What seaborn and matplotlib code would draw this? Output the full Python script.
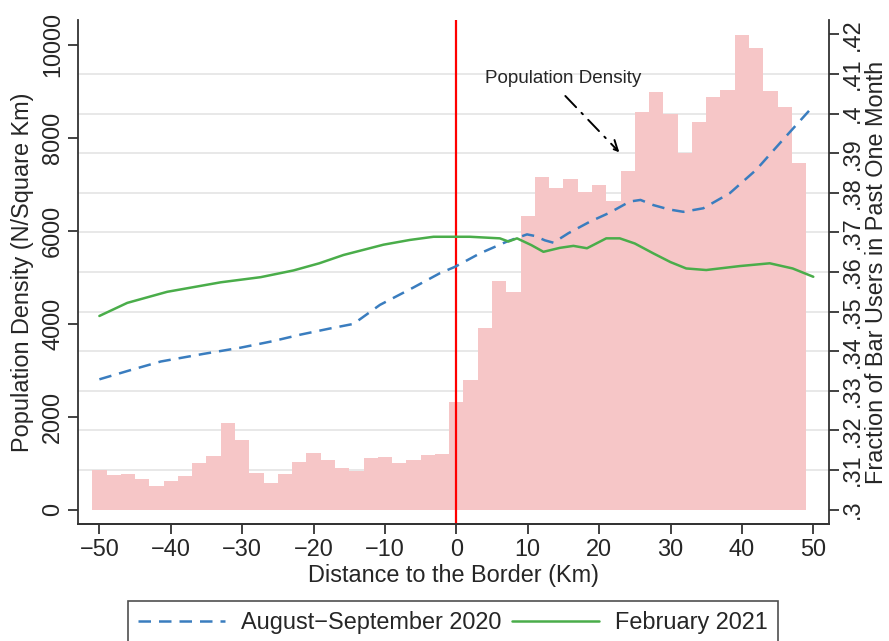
import numpy as np
import pandas as pd
import matplotlib
matplotlib.use("Agg")
import matplotlib.pyplot as plt
from matplotlib.ticker import FuncFormatter
from matplotlib.lines import Line2D
import seaborn as sns

# Population density, 2 km bins centred on even distances
dist = np.arange(-50, 50, 2)
density = [852, 744, 766, 658, 508, 616, 723, 1002, 1152, 1862,
           1497, 787, 572, 766, 1024, 1217, 1067, 895, 830, 1110,
           1131, 1002, 1067, 1174, 1196, 2314, 2791, 3910, 4916, 4686,
           6314, 7160, 6916, 7110, 6830, 6988, 6637, 7282, 8557, 8987,
           8508, 7662, 8335, 8873, 9024, 10206, 9927, 9009, 8658, 7454]

# Fraction of bar users, smoothed
aug_x = [-50, -45.5, -41.4, -35.5, -30.2, -25.8, -21.8, -17.8, -14.4, -10.7, -6.0, -2.3, -0.2,
         3.3, 7.1, 9.9, 11.0, 12.4, 13.6, 15.7, 18.7, 21.5, 24.3, 25.8, 27.6, 29.8, 31.8, 34.6,
         38.3, 42.0, 45.7, 50]
aug_y = [.3329, .3353, .3374, .3393, .3409, .3425, .3442, .3457, .3469, .3517, .3561, .3597,
         .3613, .3647, .3677, .3695, .3691, .3680, .3674, .3698, .3727, .3750, .3778, .3782,
         .3769, .3758, .3752, .3761, .3799, .3858, .3933, .4019]

feb_x = [-50, -46.1, -40.5, -33.0, -27.4, -22.8, -19.2, -15.8, -10.2, -6.5, -3.2, 1.9, 6.1,
         7.3, 8.5, 10.5, 12.2, 14.5, 16.4, 18.3, 21.0, 22.9, 25.0, 27.6, 30.0, 32.2, 35.0, 39.7,
         43.9, 47.1, 50]
feb_y = [.3489, .3522, .3550, .3574, .3587, .3604, .3622, .3643, .3669, .3681, .3689, .3689,
         .3685, .3677, .3685, .3668, .3651, .3661, .3666, .3660, .3685, .3685, .3672, .3647,
         .3625, .3609, .3605, .3615, .3622, .3609, .3588]

x_ticks = [-50, -40, -30, -20, -10, 0, 10, 20, 30, 40, 50]
left_ticks = [0, 2000, 4000, 6000, 8000, 10000]
right_ticks = [.30, .31, .32, .33, .34, .35, .36, .37, .38, .39, .40, .41, .42]

pop = pd.DataFrame({'dist': dist, 'density': density})

FS = 16.9
sns.set_style("white")
plt.rcParams['font.family'] = ['Liberation Sans', 'DejaVu Sans']
plt.rcParams['font.size'] = FS

fig = plt.figure(figsize=(8.89, 6.41), dpi=100)
ax = fig.add_axes([0.0877, 0.1825, 0.8448, 0.7863])
ax2 = ax.twinx()

# bars
sns.histplot(data=pop, x='dist', weights='density', binwidth=2, binrange=(-51, 49),
             color='#f6c6c7', alpha=1, linewidth=0, ax=ax, zorder=2)
ax.axvline(0, color='#ff0000', lw=1.6, zorder=3)

# gridlines follow the right axis but sit behind the bars
for v in right_ticks[1:-1]:
    ax.plot([0, 1], [v, v], transform=ax2.get_yaxis_transform(), color='#e8e8e8',
            lw=1.4, zorder=1, clip_on=False)

sns.lineplot(x=aug_x, y=aug_y, ax=ax2, color='#3a7dbf', lw=1.8,
             linestyle=(0, (5, 3.2)), label='August\u2212September 2020')
sns.lineplot(x=feb_x, y=feb_y, ax=ax2, color='#4aad4a', lw=1.8, label='February 2021')
ax2.get_legend().remove()

ax.annotate('', xy=(23.1, 7641), xytext=(15.0, 8938),
            arrowprops=dict(arrowstyle='->', color='black', lw=1.4,
                            linestyle=(0, (8, 4, 1, 4)), mutation_scale=18), zorder=5)
ax.text(4.0, 9275, 'Population Density', fontsize=13.6, ha='left', va='center', zorder=5)

ax.set_xlim(-53, 52.2)
ax.set_ylim(-310, 10529)
ax2.set_ylim(0.29636, 0.42364)
ax.set_xticks(x_ticks)
ax.set_yticks(left_ticks)
ax2.set_yticks(right_ticks)
ax.yaxis.set_major_formatter(FuncFormatter(lambda v, p: f"{v:.0f}"))
ax2.yaxis.set_major_formatter(FuncFormatter(lambda v, p: f"{v:.2f}".rstrip('0').lstrip('0')))

for a in (ax, ax2):
    a.tick_params(axis='both', length=7, width=1.3, color='#333333', labelsize=FS, pad=3)
    a.tick_params(axis='y', labelrotation=90)
    for s in a.spines.values():
        s.set_color('#333333')
        s.set_linewidth(1.3)
    a.spines['top'].set_visible(False)
    for lab in a.get_yticklabels():
        lab.set_verticalalignment('center')
ax.spines['right'].set_visible(False)
ax2.spines['left'].set_visible(False)
ax.tick_params(axis='x', bottom=True)
ax.tick_params(axis='y', left=True)
ax2.tick_params(axis='y', right=True, pad=1.5)

ax.set_xlabel('Distance to the Border (Km)', fontsize=FS, labelpad=2)
ax.set_ylabel('Population Density (N/Square Km)', fontsize=FS, labelpad=5)
ax2.set_ylabel('Fraction of Bar Users in Past One Month', fontsize=FS, labelpad=1)

handles = [Line2D([], [], color='#3a7dbf', lw=1.8, linestyle=(0, (5, 3.2))),
           Line2D([], [], color='#4aad4a', lw=1.8)]
leg = fig.legend(handles, ['August\u2212September 2020', 'February 2021'],
                 loc='upper center', bbox_to_anchor=(453 / 889, 1 - 601 / 641), ncol=2,
                 fontsize=FS, frameon=True, fancybox=False, handlelength=3.7,
                 handletextpad=0.7, columnspacing=0.43, borderpad=0.42, borderaxespad=0)
leg.get_frame().set_edgecolor('#222222')
leg.get_frame().set_linewidth(1.2)

fig.savefig('out.png', dpi=100)
